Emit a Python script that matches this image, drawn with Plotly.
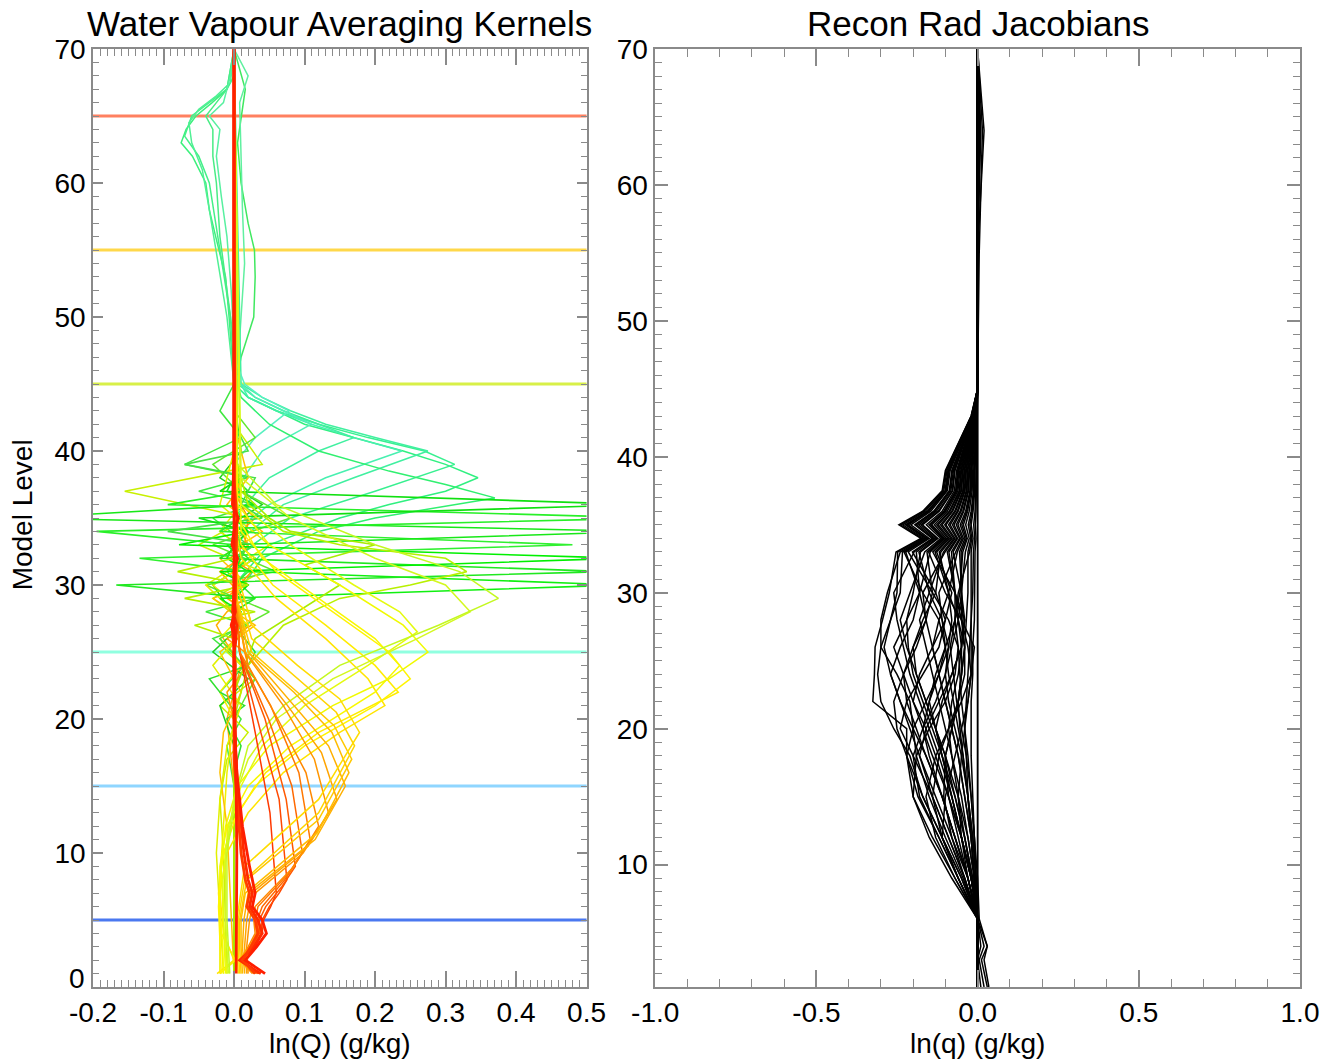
import plotly.graph_objects as go
from plotly.subplots import make_subplots

FONT = "Liberation Sans, Arial, Helvetica, sans-serif"

# ---------------- reference (horizontal) levels, left panel ----------------
ref_levels = [5, 15, 25, 45, 55, 65]
ref_colors = ["#4a78f0", "#8fd6ff", "#90ffe0", "#d8f048", "#ffd84a", "#ff8060"]

# ---------------- averaging kernels (left panel) ----------------
# top-level kernels (mint green, left bulge near level 63)
ak_top_levels = [
    [1, 40, 45, 50, 53, 56, 58, 60, 62, 63, 64, 65, 66, 67, 68, 70],
    [1, 45, 50, 55, 58, 60, 62, 63.5, 65, 66, 67, 70],
    [1, 45, 50, 55, 58, 61, 63, 64.5, 65.5, 66.5, 67.5, 70],
    [1, 48, 52, 56, 60, 62, 64, 65, 66, 67, 70],
    [1, 44, 47, 50, 53, 55, 57, 60, 63, 65, 67, 70],
    [1, 46, 50, 54, 58, 62, 66, 68, 70],
    [1, 48, 52, 56, 59, 62, 64, 65, 66, 68, 70],
]
ak_top_values = [
    [0, 0, 0.0, -0.007, -0.012, -0.026, -0.035, -0.04, -0.059, -0.075, -0.068, -0.054, -0.031, -0.01, 0.0, 0],
    [0, 0, -0.005, -0.02, -0.03, -0.035, -0.05, -0.07, -0.06, -0.035, -0.01, 0],
    [0, 0, -0.01, -0.025, -0.035, -0.045, -0.06, -0.064, -0.05, -0.025, -0.005, 0],
    [0, 0, -0.01, -0.02, -0.025, -0.03, -0.03, -0.04, -0.025, -0.01, 0],
    [0, 0, 0.01, 0.028, 0.03, 0.029, 0.02, 0.01, 0.005, 0.01, 0.016, 0],
    [0, 0.005, 0.01, 0.015, 0.012, 0.01, 0.008, 0.02, 0],
    [0, 0, -0.004, -0.01, -0.018, -0.025, -0.02, -0.035, -0.015, -0.005, 0],
]
ak_top_colors = ["#3cf07c", "#44f088", "#50f094", "#48ec84", "#40e860", "#60f0a0", "#58f0a0"]

# upper-troposphere kernels (aqua green, broad right bulges)
ak_cyan_levels = [
    [1, 30, 33, 35, 36, 37, 38, 39, 40, 41, 42, 43, 44, 45, 50, 70],
    [1, 32, 35, 37, 39, 40, 41, 42, 43, 44, 45, 70],
    [1, 33, 36, 38, 40, 41, 42, 43, 44, 45, 70],
    [1, 34, 36, 38, 40, 41, 42, 43, 44, 46, 70],
    [1, 35, 38, 40, 41, 42, 43, 44, 45, 70],
    [1, 37, 40, 42, 43, 44, 45, 46, 70],
    [1, 39, 41, 43, 44, 45, 47, 70],
    [1, 29, 32, 34, 35, 36.5, 37.5, 38.5, 40, 42, 44, 46, 70],
]
ak_cyan_values = [
    [0, 0.0, 0.05, 0.15, 0.22, 0.3, 0.346, 0.3, 0.24, 0.17, 0.1, 0.06, 0.02, 0.0, 0, 0],
    [0, 0.0, 0.08, 0.2, 0.313, 0.27, 0.19, 0.12, 0.07, 0.03, 0.005, 0],
    [0, 0.0, 0.07, 0.17, 0.275, 0.2, 0.13, 0.08, 0.04, 0.01, 0],
    [0, 0, 0.05, 0.13, 0.238, 0.17, 0.11, 0.06, 0.02, 0.0, 0],
    [0, 0, 0.05, 0.12, 0.17, 0.12, 0.06, 0.02, 0.0, 0],
    [0, 0, 0.04, 0.11, 0.07, 0.03, 0.01, 0, 0],
    [0, 0, 0.03, 0.078, 0.04, 0.015, 0, 0],
    [0, 0, 0.04, 0.12, 0.2, 0.37, 0.3, 0.22, 0.12, 0.05, 0.01, 0, 0],
]
ak_cyan_colors = ["#30f080", "#38f090", "#40f0a0", "#48f0b0", "#40f0a0", "#50f0b8", "#58f0c0", "#30f070"]

# mid-level kernels (green, spiky)
ak_green_levels = [
    [1, 27, 28, 29, 30, 31, 32, 33, 40, 70],
    [1, 27, 28, 29, 30, 31, 32, 33, 34, 40, 70],
    [1, 29, 30, 31, 32, 33, 34, 35, 40, 70],
    [1, 29, 30, 31, 32, 33, 34, 35, 36, 40, 70],
    [1, 31, 32, 33, 34, 35, 36, 37, 38, 40, 70],
    [1, 31, 32, 33, 34, 35, 36, 37, 38, 40, 70],
    [1, 32, 33, 34, 35, 36, 37, 38, 40, 70],
    [1, 26, 27, 28, 29, 30, 31, 32, 70],
    [1, 32, 33, 34, 35, 36, 37, 38, 39, 40, 42, 70],
    [1, 20, 24, 27, 29, 30, 31, 32, 33, 34, 36, 40, 70],
    [1, 22, 26, 28, 30, 31.5, 33, 34, 35, 37, 40, 70],
]
ak_green_values = [
    [0, 0, 0.01, -0.02, 0.55, 0.02, -0.01, 0.0, 0, 0],
    [0, 0, 0.0, 0.03, -0.167, 0.53, -0.02, 0.01, 0.0, 0, 0],
    [0, 0, 0.02, -0.02, 0.55, -0.078, 0.02, 0.0, 0, 0],
    [0, 0, 0.0, 0.02, -0.134, 0.48, -0.02, 0.01, 0.0, 0, 0],
    [0, 0, 0.01, -0.01, 0.58, -0.3, 0.03, -0.01, 0.0, 0, 0],
    [0, 0, 0.02, 0.0, -0.195, 0.6, -0.094, 0.02, 0.0, 0, 0],
    [0, 0, 0.0, 0.02, -0.05, 0.58, -0.02, 0.01, 0, 0],
    [0, 0, -0.056, 0.03, -0.07, 0.02, -0.08, 0.0, 0],
    [0, 0, 0.03, -0.094, 0.04, 0.01, 0.02, 0.03, -0.07, 0.02, 0, 0],
    [0, 0, 0.02, 0.07, 0.15, 0.25, 0.33, 0.3, 0.15, 0.07, 0.02, 0, 0],
    [0, 0, 0.03, 0.09, 0.15, 0.1, 0.2, 0.08, 0.05, 0.01, 0, 0],
]
ak_green_colors = ["#10f010", "#20e820", "#00f000", "#30f030", "#18e818", "#28f028",
                   "#10e010", "#b4f000", "#48e048", "#b8f000", "#a8ec00"]

# near-zero noisy kernels
ak_noise_levels = [
    [1, 15, 18, 20, 22, 24, 26, 27, 28, 29, 31, 33, 35, 36, 37, 38, 39, 41, 43, 45, 50, 70],
    [1, 10, 14, 17, 19, 21, 23, 25, 27, 29, 31, 33, 35, 37, 39, 42, 46, 70],
    [1, 15, 20, 24, 26, 27, 28, 29, 31, 32, 33, 34, 35, 36, 40, 50, 70],
    [1, 18, 21, 23, 25, 27, 30, 32, 34, 36, 38, 40, 44, 70],
    [1, 8, 12, 16, 20, 22, 24, 26, 28, 30, 32, 34, 36, 38, 70],
    [1, 16, 18, 20, 21, 22, 23, 24, 25, 27, 29, 70],
    [1, 12, 16, 19, 22, 25, 27, 29, 30, 32, 34, 36, 38, 42, 70],
    [1, 20, 23, 26, 28, 30, 31, 33, 35, 37, 39, 41, 43, 46, 70],
    [1, 6, 10, 14, 18, 21, 24, 27, 30, 33, 36, 40, 70],
    [1, 20, 22, 24, 25, 26, 27, 28, 29, 31, 32, 33, 35, 37, 40, 70],
]
ak_noise_values = [
    [0, 0, -0.01, 0.01, -0.02, 0.015, -0.03, 0.02, -0.04, 0.03, -0.01, 0.02, -0.03, 0.03, -0.05, 0.02, -0.07, 0.01, -0.02, 0.0, 0, 0],
    [-0.01, -0.015, -0.02, -0.01, 0.02, -0.02, 0.03, -0.01, 0.02, -0.03, 0.04, -0.05, 0.02, -0.155, 0.04, 0.0, 0, 0],
    [0.0, 0.0, -0.01, 0.01, -0.015, -0.025, -0.01, 0.015, -0.02, 0.01, 0.02, 0.01, 0.03, 0.01, 0, 0, 0],
    [0, 0.0, -0.02, 0.02, -0.03, 0.01, -0.03, 0.03, -0.02, 0.04, -0.02, 0.01, 0, 0],
    [-0.02, -0.02, -0.015, -0.01, 0.0, -0.02, 0.01, -0.02, 0.015, -0.03, 0.03, -0.02, 0.01, 0.0, 0],
    [0, 0, 0.01, -0.01, 0.015, -0.02, -0.035, 0.02, 0.03, 0.0, 0, 0],
    [0, -0.01, -0.02, -0.015, 0.01, -0.02, 0.03, -0.03, 0.02, -0.02, 0.04, -0.01, 0.02, 0, 0],
    [0, 0, 0.03, -0.02, 0.05, -0.04, 0.06, -0.03, 0.08, 0.01, -0.03, 0.03, 0.0, 0, 0],
    [-0.015, -0.02, -0.025, -0.02, -0.01, 0.01, -0.03, 0.02, -0.04, 0.05, -0.02, 0, 0],
    [0, 0.0, -0.01, 0.02, 0.015, -0.01, 0.025, 0.02, -0.01, 0.025, -0.005, 0.015, 0.02, 0.0, 0, 0],
]
ak_noise_colors = ["#40e840", "#c8f000", "#ffb000", "#20d020", "#f0f000", "#30e030",
                   "#ffc000", "#60e830", "#e0f000", "#ff9c00"]

# lower-troposphere kernels (yellow, broad bulges near levels 21-29)
ak_yellow_levels = [
    [1, 2, 4, 7, 10, 13, 16, 19, 21, 23, 26, 29, 32, 35, 70],
    [1, 2, 4, 7, 10, 13, 16, 19, 22, 24, 27, 30, 33, 36, 70],
    [1, 3, 6, 9, 12, 15, 18, 21, 23, 25, 28, 31, 34, 70],
    [1, 3, 6, 9, 12, 15, 18, 21, 22, 24, 26, 29, 32, 35, 70],
    [1, 3, 6, 9, 12, 15, 18, 21, 23, 25, 27, 30, 33, 36, 70],
    [1, 4, 8, 12, 15, 18, 21, 24, 26.5, 28, 30, 33, 36, 70],
    [1, 5, 10, 14, 17, 20, 23, 26, 28, 30, 32, 35, 38, 70],
    [1, 5, 10, 15, 18, 21, 24, 27, 29, 31, 33, 36, 39, 70],
]
ak_yellow_values = [
    [-0.024, 0.0, -0.015, -0.02, -0.01, 0.02, 0.07, 0.15, 0.214, 0.19, 0.13, 0.06, 0.01, 0.0, 0],
    [-0.02, 0.002, -0.018, -0.022, -0.015, 0.005, 0.045, 0.12, 0.233, 0.2, 0.13, 0.055, 0.01, 0.0, 0],
    [-0.018, -0.02, -0.022, -0.018, -0.005, 0.03, 0.1, 0.2, 0.25, 0.22, 0.14, 0.06, 0.01, 0],
    [-0.015, -0.016, -0.02, -0.02, -0.01, 0.02, 0.08, 0.17, 0.2, 0.235, 0.2, 0.12, 0.04, 0.005, 0],
    [-0.012, -0.014, -0.016, -0.018, -0.012, 0.005, 0.05, 0.14, 0.22, 0.275, 0.24, 0.15, 0.05, 0.005, 0],
    [-0.01, -0.014, -0.016, -0.008, 0.01, 0.04, 0.1, 0.19, 0.26, 0.235, 0.17, 0.08, 0.01, 0],
    [-0.008, -0.012, -0.012, 0.0, 0.02, 0.06, 0.14, 0.26, 0.335, 0.3, 0.2, 0.08, 0.01, 0],
    [-0.006, -0.01, -0.01, 0.005, 0.02, 0.07, 0.15, 0.29, 0.375, 0.32, 0.2, 0.06, 0.005, 0],
]
ak_yellow_colors = ["#ffe400", "#ffec00", "#fff400", "#f8f800", "#f0fa00", "#e4fa10", "#d4f820", "#c4f820"]

# boundary-layer kernels (orange, peaks at levels 7-19)
ak_orange_levels = [
    [1, 2, 3, 4, 5, 6, 7, 13, 19, 25, 30, 70],
    [1, 2, 3, 4, 5, 6, 7, 8, 14, 19, 25, 30, 70],
    [1, 2, 3, 4, 5, 6, 7.5, 9, 14, 20, 25, 30, 70],
    [1, 2, 3, 4, 5, 6, 8, 10, 15, 20, 25, 30, 70],
    [1, 2, 3, 4, 5, 6, 8.5, 11, 16, 21, 25, 30, 70],
    [1, 2, 3, 4, 5, 6, 9, 12, 16, 20, 24, 28, 70],
    [1, 3, 5, 7, 10, 13, 17, 21, 25, 29, 70],
    [1, 3, 5, 7, 10.5, 14, 17.5, 21, 25, 29, 70],
    [1, 3, 5, 7, 11, 15, 18, 21, 25, 29, 70],
    [1, 3, 5, 7, 11.5, 16, 19, 22, 25, 29, 70],
    [1, 3, 5, 8, 12.5, 17, 19.5, 22, 25, 29, 70],
    [1, 3, 5, 8, 13, 18, 20.5, 23, 26, 30, 70],
    [1, 3, 5, 9, 14, 19, 21.5, 24, 27, 31, 70],
]
ak_orange_values = [
    [0.036, 0.012, 0.03, 0.04, 0.042, 0.052, 0.06, 0.051, 0.03, 0.008, 0.002, 0],
    [0.034, 0.01, 0.028, 0.038, 0.04, 0.05, 0.064, 0.075, 0.064, 0.038, 0.008, 0.002, 0],
    [0.032, 0.01, 0.026, 0.036, 0.036, 0.045, 0.068, 0.087, 0.074, 0.044, 0.008, 0.002, 0],
    [0.03, 0.01, 0.025, 0.035, 0.033, 0.04, 0.072, 0.097, 0.082, 0.049, 0.008, 0.001, 0],
    [0.028, 0.008, 0.022, 0.032, 0.03, 0.034, 0.078, 0.108, 0.092, 0.052, 0.008, 0.001, 0],
    [0.026, 0.008, 0.02, 0.03, 0.028, 0.03, 0.085, 0.12, 0.102, 0.062, 0.02, 0.004, 0],
    [0.02, 0.018, 0.022, 0.03, 0.098, 0.134, 0.114, 0.07, 0.015, 0.003, 0],
    [0.018, 0.015, 0.018, 0.025, 0.105, 0.146, 0.124, 0.076, 0.016, 0.003, 0],
    [0.015, 0.012, 0.014, 0.02, 0.115, 0.158, 0.134, 0.085, 0.02, 0.004, 0],
    [0.012, 0.01, 0.01, 0.016, 0.118, 0.163, 0.139, 0.085, 0.02, 0.004, 0],
    [0.01, 0.008, 0.008, 0.018, 0.12, 0.167, 0.142, 0.09, 0.025, 0.004, 0],
    [0.008, 0.006, 0.006, 0.015, 0.12, 0.171, 0.145, 0.09, 0.025, 0.004, 0],
    [0.006, 0.004, 0.004, 0.015, 0.12, 0.178, 0.15, 0.09, 0.025, 0.004, 0],
]
ak_orange_colors = ["#ff3800", "#ff4800", "#ff5800", "#ff6800", "#ff7800", "#ff8800", "#ff9600",
                    "#ffa400", "#ffb000", "#ffbc00", "#ffc800", "#ffd400", "#ffdc00"]

# surface kernels (red, drawn last)
ak_red_levels = [
    [1, 2, 3, 4, 5, 6, 7, 8, 10, 12, 15, 18, 22, 25, 27, 28, 30, 32, 33, 35, 36, 40, 50, 60, 70],
    [1, 2, 3, 4, 5, 6, 7, 8, 10, 12, 15, 17, 20, 24, 27, 29, 32, 35, 38, 45, 55, 65, 70],
    [1, 2, 3, 4, 5, 6, 7, 9, 12, 16, 20, 30, 40, 50, 60, 70],
    [1, 10, 15, 20, 25, 26, 27, 28, 29, 31, 32, 33, 34, 35, 36, 38, 45, 55, 65, 70],
]
ak_red_values = [
    [0.038, 0.008, 0.028, 0.04, 0.034, 0.022, 0.026, 0.02, 0.014, 0.01, 0.005, 0.002, 0.0, 0.0, 0.004, -0.002, 0.0, 0.003, -0.002, 0.005, -0.002, 0.0, 0.0, 0.0, 0.0],
    [0.03, 0.012, 0.024, 0.034, 0.03, 0.018, 0.022, 0.016, 0.01, 0.007, 0.003, 0.0, 0.0, 0.002, -0.003, 0.002, 0.003, 0.004, 0.0, 0.001, 0.0, 0.0, 0.0],
    [0.044, 0.016, 0.032, 0.046, 0.04, 0.026, 0.03, 0.022, 0.012, 0.004, 0.0, 0.0, 0.0, 0.0, 0.0, 0.0],
    [0.003, 0.004, 0.003, 0.001, 0.0, 0.003, -0.004, 0.002, 0.0, 0.0, 0.005, -0.003, 0.0, 0.006, -0.002, 0.0, 0.0, 0.0, 0.001, 0.0],
]
ak_red_colors = ["#ff2a00", "#ff3c00", "#ff1e00", "#ff2000"]

# ---------------- reconstructed radiance Jacobians (right panel) ----------------
jac_levels = [1, 3, 4, 6, 9, 12, 15, 18, 20, 22, 24, 26, 28, 30, 33, 34, 35, 36, 37.5, 39, 41, 43, 45, 55, 64, 70]
jac_values = [
    [0.03, 0.012, 0.03, 0.0, -0.06, -0.12, -0.185, -0.22, -0.22, -0.325, -0.32, -0.318, -0.295, -0.274, -0.253, -0.176, -0.244, -0.17, -0.11, -0.1, -0.06, -0.02, 0.0, 0.0, 0.01, 0.0],
    [0.02, 0.005, 0.02, 0.0, -0.05, -0.11, -0.17, -0.21, -0.26, -0.3, -0.31, -0.3, -0.27, -0.25, -0.248, -0.172, -0.239, -0.167, -0.108, -0.098, -0.059, -0.02, 0.0, 0.0, 0.008, 0.0],
    [0.01, 0.0, 0.01, 0.0, -0.045, -0.1, -0.15, -0.19, -0.2, -0.21, -0.25, -0.3, -0.3, -0.28, -0.24, -0.167, -0.232, -0.162, -0.105, -0.095, -0.057, -0.019, 0.0, 0.0, 0.005, 0.0],
    [0.0, 0.0, 0.0, 0.0, -0.07, -0.14, -0.2, -0.22, -0.2, -0.16, -0.12, -0.1, -0.12, -0.17, -0.228, -0.158, -0.22, -0.153, -0.099, -0.09, -0.054, -0.018, 0.0, 0.0, 0.005, 0.0],
    [0.0, 0.0, 0.0, 0.0, -0.08, -0.15, -0.2, -0.19, -0.15, -0.1, -0.07, -0.06, -0.09, -0.14, -0.215, -0.15, -0.207, -0.145, -0.094, -0.085, -0.051, -0.017, 0.0, 0.0, 0.0, 0.0],
    [0.0, 0.0, 0.0, 0.0, -0.04, -0.09, -0.14, -0.2, -0.24, -0.22, -0.17, -0.12, -0.1, -0.13, -0.202, -0.141, -0.195, -0.136, -0.088, -0.08, -0.048, -0.016, 0.0, 0.0, 0.0, 0.0],
    [0.0, 0.0, 0.0, 0.0, -0.03, -0.07, -0.11, -0.16, -0.2, -0.24, -0.27, -0.24, -0.2, -0.18, -0.19, -0.132, -0.183, -0.128, -0.083, -0.075, -0.045, -0.015, 0.0, 0.0, 0.0, 0.0],
    [0.0, 0.0, 0.0, 0.0, -0.02, -0.05, -0.09, -0.13, -0.16, -0.2, -0.23, -0.26, -0.22, -0.2, -0.177, -0.123, -0.171, -0.119, -0.077, -0.07, -0.042, -0.014, 0.0, 0.0, 0.0, 0.0],
    [0.0, 0.0, 0.0, 0.0, -0.015, -0.04, -0.07, -0.1, -0.13, -0.16, -0.19, -0.22, -0.24, -0.21, -0.164, -0.114, -0.159, -0.11, -0.072, -0.065, -0.039, -0.013, 0.0, 0.0, 0.0, 0.0],
    [0.0, 0.0, 0.0, 0.0, -0.07, -0.13, -0.16, -0.13, -0.09, -0.05, -0.02, -0.01, -0.05, -0.1, -0.152, -0.106, -0.146, -0.102, -0.066, -0.06, -0.036, -0.012, 0.0, 0.0, 0.0, 0.0],
    [0.0, 0.0, 0.0, 0.0, -0.04, -0.09, -0.14, -0.18, -0.16, -0.12, -0.08, -0.05, -0.04, -0.07, -0.139, -0.097, -0.134, -0.094, -0.061, -0.055, -0.033, -0.011, 0.0, 0.0, 0.0, 0.0],
    [0.0, 0.0, 0.0, 0.0, -0.02, -0.05, -0.09, -0.14, -0.17, -0.2, -0.18, -0.14, -0.1, -0.08, -0.127, -0.088, -0.122, -0.085, -0.055, -0.05, -0.03, -0.01, 0.0, 0.0, 0.0, 0.0],
    [0.0, 0.0, 0.0, 0.0, -0.01, -0.03, -0.06, -0.1, -0.13, -0.16, -0.19, -0.2, -0.17, -0.13, -0.114, -0.079, -0.11, -0.077, -0.05, -0.045, -0.027, -0.009, 0.0, 0.0, 0.0, 0.0],
    [0.0, 0.0, 0.0, 0.0, -0.01, -0.02, -0.04, -0.06, -0.08, -0.1, -0.12, -0.14, -0.16, -0.17, -0.101, -0.07, -0.098, -0.068, -0.044, -0.04, -0.024, -0.008, 0.0, 0.0, 0.0, 0.0],
    [0.0, 0.0, 0.0, 0.0, -0.06, -0.11, -0.1, -0.07, -0.05, -0.03, -0.02, -0.03, -0.05, -0.07, -0.089, -0.062, -0.085, -0.06, -0.039, -0.035, -0.021, -0.007, 0.0, 0.0, 0.0, 0.0],
    [0.0, 0.0, 0.0, 0.0, -0.02, -0.05, -0.08, -0.11, -0.13, -0.11, -0.08, -0.05, -0.04, -0.05, -0.076, -0.053, -0.073, -0.051, -0.033, -0.03, -0.018, -0.006, 0.0, 0.0, 0.0, 0.0],
    [0.0, 0.0, 0.0, 0.0, -0.01, -0.02, -0.04, -0.06, -0.08, -0.1, -0.12, -0.14, -0.12, -0.09, -0.063, -0.044, -0.061, -0.043, -0.028, -0.025, -0.015, -0.005, 0.0, 0.0, 0.0, 0.0],
    [0.0, 0.0, 0.0, 0.0, -0.03, -0.06, -0.09, -0.1, -0.08, -0.06, -0.05, -0.04, -0.05, -0.05, -0.051, -0.035, -0.049, -0.034, -0.022, -0.02, -0.012, -0.004, 0.0, 0.0, 0.0, 0.0],
    [0.0, 0.0, 0.0, 0.0, -0.005, -0.015, -0.03, -0.05, -0.07, -0.09, -0.1, -0.08, -0.06, -0.05, -0.038, -0.026, -0.037, -0.026, -0.017, -0.015, -0.009, -0.003, 0.0, 0.0, 0.0, 0.0],
    [0.0, 0.0, 0.0, 0.0, 0.0, -0.01, -0.02, -0.03, -0.04, -0.05, -0.055, -0.06, -0.07, -0.06, -0.025, -0.018, -0.024, -0.017, -0.011, -0.01, -0.006, -0.002, 0.0, 0.0, 0.0, 0.0],
    [0.0, 0.0, 0.0, 0.0, -0.03, -0.05, -0.06, -0.05, -0.04, -0.03, -0.02, -0.02, -0.02, -0.02, -0.02, -0.014, -0.02, -0.014, -0.009, -0.008, -0.005, -0.002, 0.0, 0.0, 0.0, 0.0],
    [0.0, 0.0, 0.0, 0.0, -0.01, -0.02, -0.03, -0.035, -0.04, -0.035, -0.03, -0.025, -0.02, -0.015, -0.013, -0.009, -0.012, -0.008, -0.006, -0.005, -0.003, -0.001, 0.0, 0.0, 0.0, 0.0],
    [0.0, 0.0, 0.0, 0.0, -0.005, -0.01, -0.015, -0.02, -0.02, -0.02, -0.015, -0.015, -0.01, -0.01, -0.008, -0.005, -0.007, -0.005, -0.003, -0.003, -0.002, -0.001, 0.0, 0.0, 0.0, 0.0],
    [0.035, 0.02, 0.03, 0.005, 0.0, 0.0, 0.0, 0.0, 0.0, 0.0, 0.0, 0.0, 0.0, 0.0, 0.0, 0.0, 0.0, 0.0, 0.0, 0.0, 0.0, 0.0, 0.0, 0.005, 0.015, 0.0],
    [0.0, 0.0, 0.0, 0.0, 0.0, 0.0, 0.0, 0.0, 0.0, 0.0, 0.0, 0.0, 0.0, 0.0, 0.0, 0.0, 0.0, 0.0, 0.0, 0.0, 0.0, 0.0, 0.0, 0.0, 0.02, 0.0],
    [0.0, 0.0, 0.0, 0.0, -0.03, -0.08, -0.13, -0.18, -0.21, -0.24, -0.27, -0.29, -0.27, -0.24, -0.233, -0.162, -0.224, -0.156, -0.101, -0.092, -0.055, -0.018, 0.0, 0.0, 0.005, 0.0],
    [0.0, 0.0, 0.0, 0.0, -0.05, -0.11, -0.17, -0.22, -0.25, -0.26, -0.23, -0.19, -0.16, -0.18, -0.223, -0.155, -0.215, -0.15, -0.097, -0.088, -0.053, -0.018, 0.0, 0.0, 0.0, 0.0],
    [0.0, 0.0, 0.0, 0.0, -0.02, -0.05, -0.08, -0.12, -0.15, -0.18, -0.21, -0.23, -0.25, -0.26, -0.197, -0.137, -0.19, -0.133, -0.086, -0.078, -0.047, -0.016, 0.0, 0.0, 0.0, 0.0],
    [0.0, 0.0, 0.0, 0.0, -0.06, -0.12, -0.18, -0.2, -0.17, -0.13, -0.1, -0.09, -0.11, -0.15, -0.182, -0.127, -0.176, -0.122, -0.079, -0.072, -0.043, -0.014, 0.0, 0.0, 0.0, 0.0],
    [0.0, 0.0, 0.0, 0.0, -0.03, -0.07, -0.11, -0.16, -0.19, -0.22, -0.23, -0.2, -0.16, -0.14, -0.157, -0.109, -0.151, -0.105, -0.068, -0.062, -0.037, -0.012, 0.0, 0.0, 0.0, 0.0],
    [0.0, 0.0, 0.0, 0.0, -0.015, -0.04, -0.07, -0.11, -0.14, -0.17, -0.2, -0.215, -0.22, -0.18, -0.147, -0.102, -0.142, -0.099, -0.064, -0.058, -0.035, -0.012, 0.0, 0.0, 0.0, 0.0],
    [0.0, 0.0, 0.0, 0.0, -0.06, -0.11, -0.14, -0.12, -0.09, -0.06, -0.04, -0.04, -0.06, -0.09, -0.132, -0.092, -0.127, -0.088, -0.057, -0.052, -0.031, -0.01, 0.0, 0.0, 0.0, 0.0],
    [0.0, 0.0, 0.0, 0.0, -0.03, -0.07, -0.11, -0.15, -0.17, -0.15, -0.12, -0.09, -0.08, -0.09, -0.119, -0.083, -0.115, -0.08, -0.052, -0.047, -0.028, -0.009, 0.0, 0.0, 0.0, 0.0],
    [0.0, 0.0, 0.0, 0.0, -0.01, -0.03, -0.05, -0.08, -0.1, -0.12, -0.14, -0.16, -0.18, -0.15, -0.106, -0.074, -0.102, -0.071, -0.046, -0.042, -0.025, -0.008, 0.0, 0.0, 0.0, 0.0],
    [0.0, 0.0, 0.0, 0.0, -0.02, -0.05, -0.08, -0.11, -0.13, -0.15, -0.13, -0.1, -0.07, -0.07, -0.094, -0.065, -0.09, -0.063, -0.041, -0.037, -0.022, -0.007, 0.0, 0.0, 0.0, 0.0],
    [0.0, 0.0, 0.0, 0.0, -0.04, -0.08, -0.105, -0.1, -0.08, -0.06, -0.05, -0.05, -0.06, -0.07, -0.081, -0.056, -0.078, -0.054, -0.035, -0.032, -0.019, -0.006, 0.0, 0.0, 0.0, 0.0],
    [0.0, 0.0, 0.0, 0.0, -0.005, -0.015, -0.03, -0.045, -0.06, -0.075, -0.09, -0.1, -0.11, -0.12, -0.068, -0.048, -0.066, -0.046, -0.03, -0.027, -0.016, -0.005, 0.0, 0.0, 0.0, 0.0],
    [0.0, 0.0, 0.0, 0.0, -0.02, -0.04, -0.06, -0.08, -0.09, -0.08, -0.06, -0.05, -0.045, -0.05, -0.056, -0.039, -0.054, -0.037, -0.024, -0.022, -0.013, -0.004, 0.0, 0.0, 0.0, 0.0],
    [0.0, 0.0, 0.0, 0.0, -0.005, -0.01, -0.02, -0.035, -0.05, -0.065, -0.075, -0.085, -0.07, -0.055, -0.046, -0.032, -0.044, -0.031, -0.02, -0.018, -0.011, -0.004, 0.0, 0.0, 0.0, 0.0],
    [0.0, 0.0, 0.0, 0.0, -0.01, -0.02, -0.03, -0.045, -0.055, -0.06, -0.05, -0.04, -0.035, -0.03, -0.03, -0.021, -0.029, -0.02, -0.013, -0.012, -0.007, -0.002, 0.0, 0.0, 0.0, 0.0],
]

# ---------------- axis ticks / labels ----------------
ak_xticks = [-0.2, -0.1, 0.0, 0.1, 0.2, 0.3, 0.4, 0.5]
ak_xticklabels = ["-0.2", "-0.1", "0.0", "0.1", "0.2", "0.3", "0.4", "0.5"]
ak_yticks = [10, 20, 30, 40, 50, 60, 70]
ak_ybottom_label = "0"
jac_xticks = [-1.0, -0.5, 0.0, 0.5, 1.0]
jac_xticklabels = ["-1.0", "-0.5", "0.0", "0.5", "1.0"]
jac_yticks = [10, 20, 30, 40, 50, 60, 70]

titles = ["Water Vapour Averaging Kernels", "Recon Rad Jacobians"]
xtitles = ["ln(Q) (g/kg)", "ln(q) (g/kg)"]
ytitle = "Model Level"

# ---------------- figure ----------------
fig = make_subplots(rows=1, cols=2)


def add_group(levels_list, values_list, colors, width, col):
    for lev, val, c in zip(levels_list, values_list, colors):
        fig.add_trace(go.Scatter(x=val, y=lev, mode="lines",
                                 line=dict(color=c, width=width),
                                 hoverinfo="skip", showlegend=False),
                      row=1, col=col)


add_group(ak_top_levels, ak_top_values, ak_top_colors, 1.5, 1)
add_group(ak_cyan_levels, ak_cyan_values, ak_cyan_colors, 1.5, 1)
add_group(ak_noise_levels, ak_noise_values, ak_noise_colors, 1.5, 1)
add_group(ak_green_levels, ak_green_values, ak_green_colors, 1.6, 1)
add_group(ak_yellow_levels, ak_yellow_values, ak_yellow_colors, 1.5, 1)
add_group(ak_orange_levels, ak_orange_values, ak_orange_colors, 1.5, 1)
add_group(ak_red_levels, ak_red_values, ak_red_colors, 2.8, 1)

for vals in jac_values:
    fig.add_trace(go.Scatter(x=vals, y=jac_levels, mode="lines",
                             line=dict(color="black", width=1.5),
                             hoverinfo="skip", showlegend=False),
                  row=1, col=2)

for lev, c in zip(ref_levels, ref_colors):
    fig.add_shape(type="line", xref="x domain", yref="y", x0=0, x1=1, y0=lev, y1=lev,
                  line=dict(color=c, width=3), layer="below")

AX_COL = "#8a8a8a"
common = dict(showline=True, linecolor=AX_COL, linewidth=1.6, mirror="ticks",
              ticks="inside", tickcolor=AX_COL, tickwidth=1.5, showgrid=False,
              zeroline=False, tickfont=dict(size=28, color="black", family=FONT))

W, H = 1331, 1060
ML, MR, MT, MB = 93, 25, 49, 73
PW = W - ML - MR
PH = H - MT - MB
left_dom = [0.0, (589 - ML) / PW]
right_dom = [(658 - ML) / PW, 1.0]

fig.update_layout(
    width=W, height=H,
    margin=dict(l=ML, r=MR, t=MT, b=MB),
    paper_bgcolor="white", plot_bgcolor="white",
    font=dict(family=FONT, color="black"),
    showlegend=False,
    xaxis=dict(common, domain=left_dom, range=[-0.2, 0.5], tickvals=ak_xticks,
               ticktext=ak_xticklabels, ticklen=16,
               minor=dict(ticks="inside", tick0=-0.2, dtick=0.01, ticklen=7,
                          tickcolor=AX_COL, tickwidth=1, showgrid=False)),
    yaxis=dict(common, range=[0, 70], tickvals=ak_yticks, ticklen=10,
               minor=dict(ticks="inside", tick0=0, dtick=1, ticklen=6,
                          tickcolor=AX_COL, tickwidth=1, showgrid=False)),
    xaxis2=dict(common, domain=right_dom, range=[-1, 1], tickvals=jac_xticks,
                ticktext=jac_xticklabels, ticklen=17,
                minor=dict(ticks="inside", tick0=-1, dtick=0.1, ticklen=8,
                           tickcolor=AX_COL, tickwidth=1, showgrid=False)),
    yaxis2=dict(common, range=[1, 70], tickvals=jac_yticks, ticklen=13,
                minor=dict(ticks="inside", tick0=0, dtick=1, ticklen=7,
                           tickcolor=AX_COL, tickwidth=1, showgrid=False)),
)

# bottom "0" label of the left level axis, raised slightly as in the reference
fig.add_annotation(text=ak_ybottom_label, xref="paper", yref="y", x=-6 / PW, y=0,
                   xanchor="right", yanchor="middle", yshift=9, showarrow=False,
                   font=dict(size=28, color="black", family=FONT))

cx = [(left_dom[0] + left_dom[1]) / 2, (right_dom[0] + right_dom[1]) / 2]
for i in range(2):
    fig.add_annotation(text=titles[i], xref="paper", yref="paper", x=cx[i],
                       y=1 + (MT - 23) / PH, xanchor="center", yanchor="middle",
                       showarrow=False, font=dict(size=35, color="black", family=FONT))
    fig.add_annotation(text=xtitles[i], xref="paper", yref="paper", x=cx[i],
                       y=-(1043 - (H - MB)) / PH, xanchor="center", yanchor="middle",
                       showarrow=False, font=dict(size=28, color="black", family=FONT))
fig.add_annotation(text=ytitle, xref="paper", yref="paper", x=(22 - ML) / PW,
                   y=(H - MB - 515) / PH, xanchor="center", yanchor="middle",
                   textangle=-90, showarrow=False,
                   font=dict(size=28, color="black", family=FONT))

fig.write_html("out.html")
